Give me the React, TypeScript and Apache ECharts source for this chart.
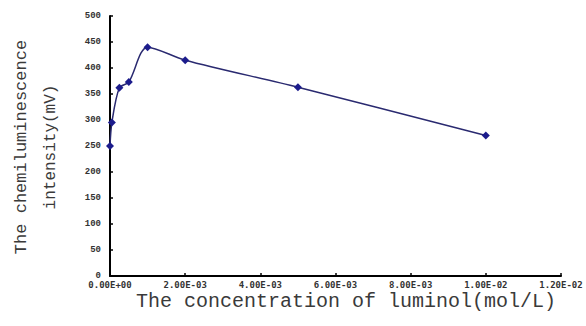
import React, { useEffect, useRef } from "react";
import * as echarts from "echarts";

const concentrations = [0, 0.00005, 0.00025, 0.0005, 0.001, 0.002, 0.005, 0.01];
const intensities = [250, 295, 362, 373, 440, 415, 363, 270];
const yTitleLines = ["The chemiluminescence", "intensity(mV)"];
const xTitle = "The concentration of luminol(mol/L)";

function sci(v: number): string {
  const s = Number(v).toExponential(2).toUpperCase();
  const [mant, exp] = s.split("E");
  const n = parseInt(exp, 10);
  const sign = n < 0 ? "-" : "+";
  const a = Math.abs(n);
  return mant + "E" + sign + (a < 10 ? "0" + a : String(a));
}

export default function App() {
  const ref = useRef<HTMLDivElement>(null);
  useEffect(() => {
    if (!ref.current) return;
    const chart = echarts.init(ref.current, undefined, { renderer: "svg" });
    const data = concentrations.map((c, i) => [c, intensities[i]]);
    chart.setOption({
      animation: false,
      backgroundColor: "#ffffff",
      grid: { left: 110, right: 25, top: 16, bottom: 50, containLabel: false },
      xAxis: {
        type: "value",
        min: 0,
        max: 0.012,
        interval: 0.002,
        name: "",
        nameMoveOverlap: false,
        axisLine: { show: true, lineStyle: { color: "#000", width: 2 } },
        axisTick: { show: true, inside: true, length: 3, lineStyle: { color: "#000", width: 1.5 } },
        axisLabel: {
          formatter: (v: number) => "{t|" + sci(v) + "}",
          rich: {
            t: {
              fontFamily: "DejaVu Sans Mono",
              fontSize: 9,
              fontWeight: "bold",
              color: "#333",
            },
          },
          margin: 4,
          hideOverlap: false,
        },
        splitLine: { show: false },
      },
      yAxis: {
        type: "value",
        min: 0,
        max: 500,
        interval: 50,
        axisLine: { show: true, lineStyle: { color: "#000", width: 2 } },
        axisTick: { show: true, inside: true, length: 3, lineStyle: { color: "#000", width: 1.5 } },
        axisLabel: {
          fontFamily: "Liberation Mono",
          fontSize: 9,
          fontWeight: "bold",
          color: "#333",
          margin: 9,
        },
        splitLine: { show: false },
      },
      graphic: [
        {
          type: "text",
          x: 21,
          y: 147,
          rotation: Math.PI / 2,
          style: {
            text: yTitleLines[0],
            fontFamily: "Liberation Mono",
            fontSize: 17,
            fill: "#3a3a3a",
            align: "center",
            verticalAlign: "middle",
          },
        },
        {
          type: "text",
          x: 51,
          y: 147,
          rotation: Math.PI / 2,
          style: {
            text: yTitleLines[1],
            fontFamily: "Liberation Mono",
            fontSize: 16,
            fill: "#3a3a3a",
            align: "center",
            verticalAlign: "middle",
          },
        },
        {
          type: "text",
          x: 346,
          y: 301,
          style: {
            text: xTitle,
            fontFamily: "Liberation Mono",
            fontSize: 20,
            fill: "#3a3a3a",
            align: "center",
            verticalAlign: "middle",
          },
        },
      ],
      series: [
        {
          type: "line",
          data,
          smooth: 0.3,
          symbol: "diamond",
          symbolSize: 8,
          lineStyle: { color: "#2a2a70", width: 1.5 },
          itemStyle: { color: "#1c1c8c" },
        },
      ],
    });
    return () => chart.dispose();
  }, []);
  return (
    <div
      ref={ref}
      style={{ position: "fixed", left: 0, top: 0, width: 586, height: 326 }}
    />
  );
}
